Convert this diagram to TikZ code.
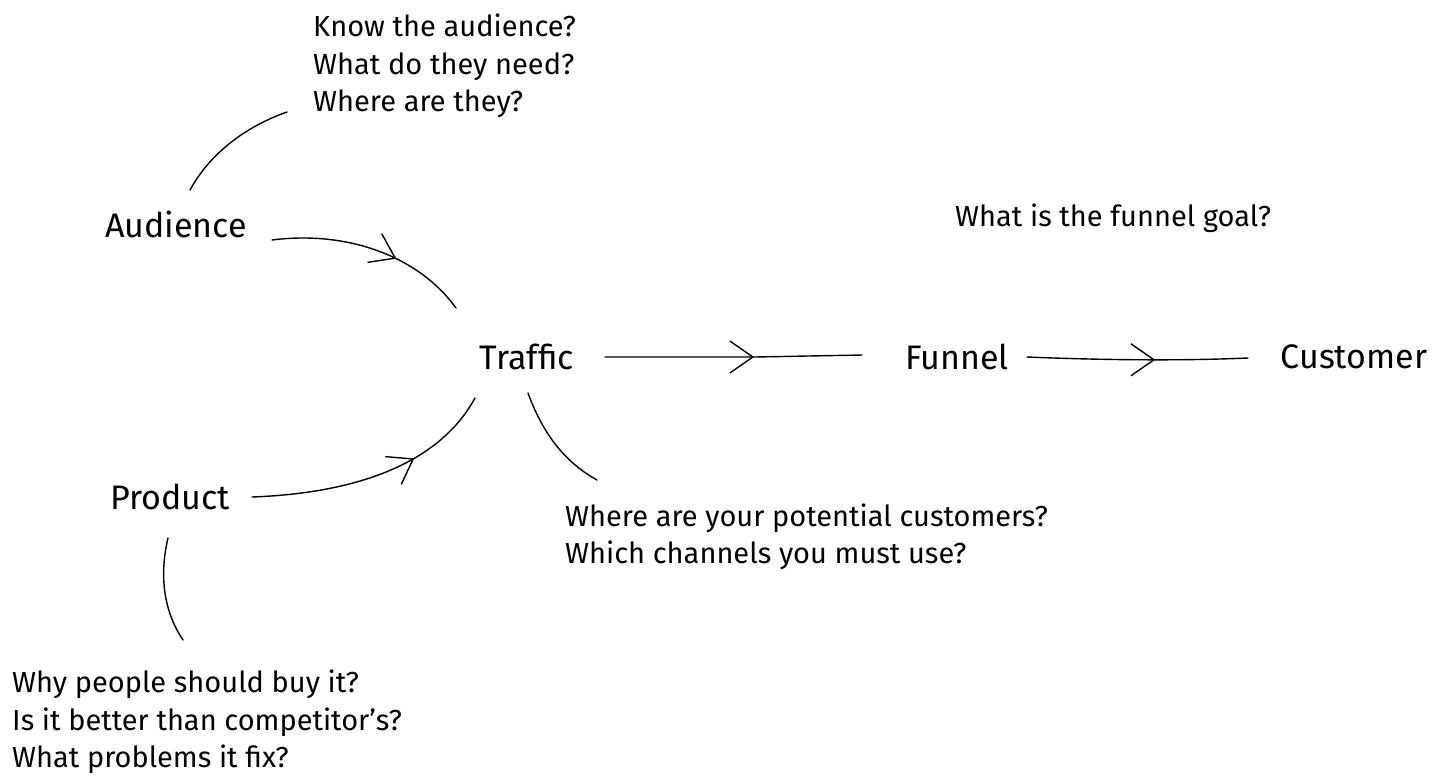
\documentclass[tikz,border=0pt]{standalone}
\usepackage{fontspec}
\setmainfont{Fira Sans}
\usetikzlibrary{arrows.meta,decorations.markings}
\tikzset{
  big/.style={font=\fontsize{34}{40}\selectfont, inner sep=0pt},
  small/.style={font=\fontsize{29}{37.5}\selectfont, inner sep=0pt, align=left, anchor=west},
  conn/.style={line width=1.4pt, line cap=round},
  midarrow/.style={conn, postaction={decorate, decoration={markings,
      mark=at position #1 with {\arrow{Straight Barb[length=23pt,width=32pt,line width=1.4pt]}}}}}
}
\begin{document}
\begin{tikzpicture}[x=1pt,y=-1pt]
\useasboundingbox (0,0) rectangle (1450,777);
% main nodes
\node[big] (aud) at (176,224) {Audience};
\node[big] (prod) at (170,497) {Product};
\node[big] (traf) at (527,357) {Traffic};
\node[big] (fun) at (957,357) {Funnel};
\node[big] (cust) at (1354,357) {Customer};
% notes
\node[small] (qaud) at (313,66) {Know the audience?\\What do they need?\\Where are they?};
\node[small] (goal) at (955,218) {What is the funnel goal?};
\node[small] (qtraf) at (565,537) {Where are your potential customers?\\Which channels you must use?};
\node[small] (qprod) at (12,722) {Why people should buy it?\\Is it better than competitor's?\\What problems it fix?};
% connector end points
\coordinate (a1) at (190,190);
\coordinate (a2) at (287,112);
\coordinate (at1) at (272,240);
\coordinate (at2) at (456,308);
\coordinate (pt1) at (252,497);
\coordinate (pt2) at (475,398);
\coordinate (tf1) at (605,357);
\coordinate (tf2) at (862,355);
\coordinate (fc1) at (1027,357);
\coordinate (fc2) at (1248,358);
\coordinate (tq1) at (528,393);
\coordinate (tq2) at (597,480);
\coordinate (pq1) at (168,538);
\coordinate (pq2) at (183,640);
% connectors
\draw[conn] (a1) .. controls (212,150) and (250,125) .. (a2);
\draw[midarrow=0.62] (at1) .. controls (350,230) and (420,258) .. (at2);
\draw[midarrow=0.66] (pt1) .. controls (360,493) and (440,462) .. (pt2);
\draw[midarrow=0.58] (tf1) -- (755,357) -- (tf2);
\draw[midarrow=0.58] (fc1) .. controls (1100,360) and (1180,361) .. (fc2);
\draw[conn] (tq1) .. controls (545,440) and (570,465) .. (tq2);
\draw[conn] (pq1) .. controls (158,580) and (166,615) .. (pq2);
\end{tikzpicture}
\end{document}
